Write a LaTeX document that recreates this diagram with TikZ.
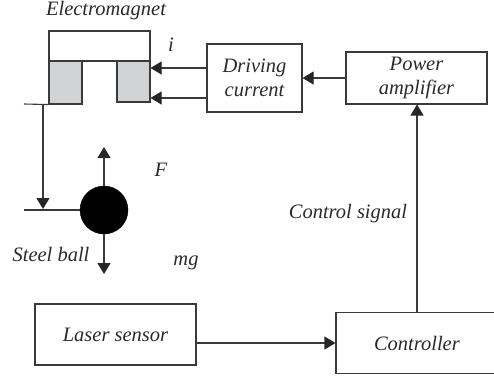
\documentclass[tikz,border=0pt]{standalone}
\usepackage{fontspec}
\setmainfont{Liberation Serif}
\usetikzlibrary{arrows.meta}
\definecolor{ink}{HTML}{3A3A3A}
\definecolor{txt}{HTML}{2A2A2A}
\definecolor{coil}{HTML}{D1D3D4}
\tikzset{
  boxed/.style={draw=ink,line width=1.1pt,fill=white,inner sep=0pt,align=center,text=txt,font=\fontsize{20.5}{24}\selectfont\itshape},
  lab/.style={inner sep=0pt,text=txt,font=\fontsize{20.5}{24}\selectfont\itshape},
  coilbox/.style={draw=ink,line width=1.1pt,fill=coil,inner sep=0pt},
  conn/.style={draw=ink,line width=1.1pt},
  arr/.style={conn,-{Triangle[length=11pt,width=13pt,color=black!85]}},
}
\begin{document}
\begin{tikzpicture}[x=1pt,y=-1pt]
\useasboundingbox (0,0) rectangle (494,378);
\node[boxed,minimum width=101pt,minimum height=30pt] (yoke) at (99.5,46) {};
\node[coilbox,minimum width=33pt,minimum height=43pt] (coilL) at (65.5,82.5) {};
\node[coilbox,minimum width=33pt,minimum height=41pt] (coilR) at (133.5,81.5) {};
\node[boxed,minimum width=95pt,minimum height=68pt] (drive) at (254.5,78) {Driving\\current};
\node[boxed,minimum width=141pt,minimum height=52pt] (power) at (416.5,78) {Power\\amplifier};
\node[boxed,minimum width=161pt,minimum height=61pt] (laser) at (115.5,334.5) {Laser sensor};
\node[boxed,minimum width=164pt,minimum height=61pt,text width=162pt,align=left] (ctrl) at (418,343) {\hspace{37pt}Controller};
\node[circle,fill=black,draw=black,minimum size=48pt,inner sep=0pt] (ball) at (104,210) {};
\node[lab] (emlabel) at (106,11) {Electromagnet};
\node[lab] (ilabel) at (171,45) {i};
\node[lab] (flabel) at (161,170) {F};
\node[lab] (mglabel) at (186,263) {mg};
\node[lab] (steel) at (51,254) {Steel ball};
\node[lab] (signal) at (348,214) {Control signal};
\coordinate (t1) at (24,104);
\coordinate (t2) at (24,210);
\coordinate (s1) at (43,104);
\coordinate (s2) at (43,209);
\coordinate (up) at (104,147);
\coordinate (down) at (104,274);
\coordinate (drA) at (207,68);
\coordinate (drB) at (207,98);
\coordinate (cin) at (417,313);
\coordinate (pin) at (417,104.5);
\draw[conn] (t1) -- (coilL.south west);
\draw[conn] (t2) -- (ball.west);
\draw[arr] (s1) -- (s2);
\draw[arr] (ball.north) -- (up);
\draw[arr] (ball.south) -- (down);
\draw[arr] (drA) -- (drA -| coilR.east);
\draw[arr] (drB) -- (drB -| coilR.east);
\draw[arr] (power.west) -- (drive.east);
\draw[arr] (ctrl.north -| cin) -- (pin);
\draw[arr] (ctrl.west -| laser.east) -- (ctrl.west);
\end{tikzpicture}
\end{document}
